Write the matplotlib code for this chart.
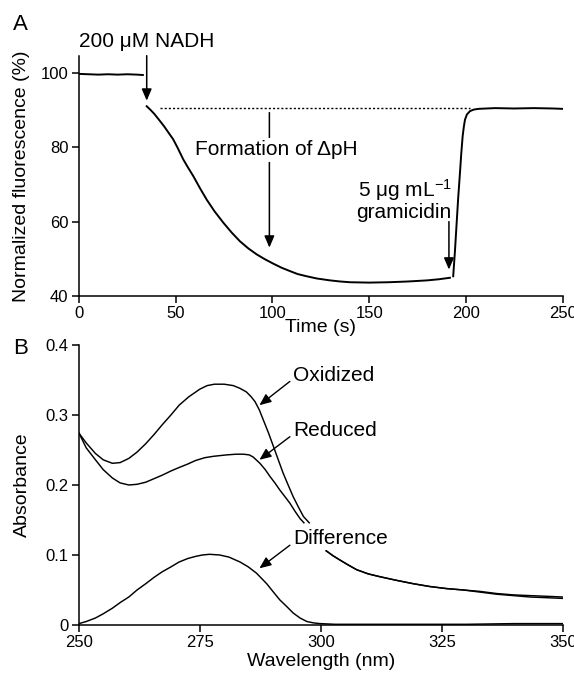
import numpy as np
import matplotlib
matplotlib.use("Agg")
import matplotlib.pyplot as plt

plt.rcParams['font.family'] = ['Liberation Sans', 'DejaVu Sans']
plt.rcParams['mathtext.fontset'] = 'custom'
plt.rcParams['mathtext.rm'] = 'Liberation Sans'
plt.rcParams['mathtext.it'] = 'Liberation Sans'

# ---------------- Panel A data: fluorescence trace ----------------
baseline_t = [0, 5, 10, 15, 20, 25, 30, 33]
baseline_f = [99.7, 99.6, 99.5, 99.6, 99.5, 99.6, 99.5, 99.4]

decay_t = [35.0, 37.0, 39.0, 41.9, 44.0, 46.0, 48.7, 51.0, 53.9, 56.5, 59.1, 62.5,
           66.0, 70.0, 74.6, 79.0, 83.2, 87.5, 91.8, 96.0, 100.4, 104.7, 109.0,
           113.0, 117.7, 123.0, 129.7, 135.0, 140.0, 150.0, 160.0, 170.0, 180.0,
           186.0, 191.7]
decay_f = [91.0, 90.0, 88.9, 87.0, 85.6, 84.1, 82.1, 79.8, 76.7, 74.4, 72.2, 69.0,
           65.9, 62.8, 59.7, 57.0, 54.7, 52.8, 51.2, 49.9, 48.7, 47.6, 46.7,
           45.9, 45.3, 44.7, 44.2, 43.9, 43.7, 43.6, 43.7, 43.9, 44.2,
           44.5, 44.9]

rise_t = [193.4, 194.3, 195.2, 196.0, 196.9, 197.6, 198.3, 198.9, 199.5, 200.5,
          202.1, 204.0, 206.4, 215, 225, 235, 245, 250]
rise_f = [45.3, 52.0, 59.7, 66.5, 73.1, 78.5, 83.0, 85.5, 87.4, 88.8,
          89.7, 90.1, 90.3, 90.5, 90.4, 90.5, 90.4, 90.3]

dotted_t = [41.9, 202.0]
dotted_f = [90.4, 90.4]

a_xticks = [0, 50, 100, 150, 200, 250]
a_yticks = [40, 60, 80, 100]

# ---------------- Panel B data: absorbance spectra ----------------
ox_nm = [250, 251.5, 253.4, 255, 256.9, 258.5, 260.3, 262, 263.8, 265.5, 267.2,
         269, 270.7, 272.7, 275.0, 276.5, 278, 280, 281.9, 283.3, 284.6, 285.6,
         286.4, 287.3, 288.1, 289.2, 290.2, 291.2, 292.2, 293.3, 294.3, 295.4,
         296.4, 297.6]
ox_abs = [0.274, 0.260, 0.245, 0.236, 0.231, 0.232, 0.238, 0.247, 0.259, 0.272, 0.286,
          0.300, 0.314, 0.326, 0.337, 0.342, 0.344, 0.344, 0.342, 0.338, 0.333, 0.326,
          0.319, 0.307, 0.293, 0.274, 0.255, 0.236, 0.217, 0.199, 0.183, 0.168,
          0.155, 0.146]

red_nm = [250, 251.5, 253.4, 255, 256.9, 258.5, 260.3, 262, 263.8, 265.5, 267.2,
          269, 270.7, 272.5, 274.1, 276, 277.8, 280.5, 282.5, 284.0, 285.2, 286.0,
          287.4, 288.5, 289.5, 290.5, 291.5, 292.5, 293.6, 294.7, 295.7, 296.5]
red_abs = [0.274, 0.253, 0.236, 0.222, 0.210, 0.203, 0.200, 0.201, 0.204, 0.209, 0.214,
           0.220, 0.225, 0.230, 0.235, 0.239, 0.241, 0.243, 0.244, 0.244, 0.243, 0.240,
           0.231, 0.222, 0.212, 0.203, 0.193, 0.184, 0.174, 0.162, 0.152, 0.146]

tail_nm = [301.1, 302.5, 303.9, 305.6, 307.4, 309.8, 312.2, 315.5, 319.1, 322.5,
           326.0, 329.5, 332.9, 336.3, 339.8, 343.2, 346.7, 350]
tail_ox = [0.106, 0.099, 0.093, 0.086, 0.079, 0.073, 0.069, 0.064, 0.059, 0.055,
           0.052, 0.050, 0.048, 0.045, 0.043, 0.042, 0.041, 0.040]
tail_red = [0.106, 0.099, 0.093, 0.086, 0.079, 0.073, 0.069, 0.064, 0.059, 0.055,
            0.052, 0.050, 0.047, 0.044, 0.042, 0.040, 0.039, 0.038]

diff_nm = [250, 251.5, 253.4, 255, 256.9, 258.5, 260.3, 262, 263.8, 265.5, 267.2,
           269, 270.7, 272.5, 274.1, 275.5, 277.0, 279.1, 281, 283.3, 285, 286.7,
           288.8, 290.2, 291.5, 293, 294.3, 295.7, 297.1, 298.5, 299.8, 303, 310,
           320, 330, 340, 350]
diff_abs = [0.002, 0.005, 0.010, 0.016, 0.024, 0.032, 0.040, 0.050, 0.059, 0.068, 0.076,
            0.083, 0.090, 0.095, 0.098, 0.100, 0.101, 0.100, 0.097, 0.090, 0.083, 0.074,
            0.059, 0.047, 0.036, 0.026, 0.017, 0.010, 0.005, 0.003, 0.002, 0.001, 0.001,
            0.001, 0.001, 0.002, 0.002]

b_xticks = [250, 275, 300, 325, 350]
b_yticks = [0, 0.1, 0.2, 0.3, 0.4]
b_yticklabels = ['0', '0.1', '0.2', '0.3', '0.4']

W, H = 574, 673
fig = plt.figure(figsize=(W / 100, H / 100), dpi=100)

def px_axes(left, top, right, bottom):
    return fig.add_axes([left / W, 1 - bottom / H, (right - left) / W, (bottom - top) / H])

lw_tr = 1.4
lw_b = 1.05
ann_fs = 15
lab_fs = 14
tick_fs = 12

def style(ax):
    for s in ['top', 'right']:
        ax.spines[s].set_visible(False)
    for s in ['left', 'bottom']:
        ax.spines[s].set_linewidth(1.1)
    ax.tick_params(direction='out', length=5, width=1.1, labelsize=tick_fs, pad=2.5)

# ---------------- Panel A ----------------
axA = px_axes(79, 56.4, 562.7, 296)
axA.plot(baseline_t, baseline_f, color='black', lw=lw_tr)
axA.plot(decay_t, decay_f, color='black', lw=lw_tr)
axA.plot(rise_t, rise_f, color='black', lw=lw_tr)
axA.plot(dotted_t, dotted_f, color='black', lw=1.0, linestyle=(0, (1.5, 1.5)))
axA.set_xlim(0, 250)
axA.set_ylim(40, 104.4)
axA.set_xticks(a_xticks)
axA.set_yticks(a_yticks)
style(axA)
axA.set_xlabel('Time (s)', fontsize=lab_fs, va='center')
axA.xaxis.set_label_coords(0.5, -(328 - 296) / 239.6)
axA.set_ylabel('Normalized fluorescence (%)', fontsize=lab_fs, va='center')
axA.yaxis.set_label_coords(-(79 - 22) / 483.7, 0.5)

arrow_kw = dict(arrowstyle='-|>,head_length=0.7,head_width=0.3', color='black', lw=1.1,
                shrinkA=0, shrinkB=0)
axA.text(0, 108.3, '200 \u03bcM NADH', fontsize=ann_fs, ha='left', va='center', clip_on=False)
axA.annotate('', xy=(35, 92.5), xytext=(35, 104.6), arrowprops=arrow_kw, annotation_clip=False)

axA.annotate('', xy=(98.4, 53.0), xytext=(98.4, 89.3), arrowprops=arrow_kw, zorder=1)
axA.text(59.9, 79.25, 'Formation of \u0394pH', fontsize=ann_fs, ha='left', va='center',
         bbox=dict(facecolor='white', edgecolor='none', pad=1.5), zorder=3)

axA.text(192.6, 65.9, '5 \u03bcg mL$^{-1}$\ngramicidin', fontsize=ann_fs, ha='right',
         va='center', linespacing=0.95, multialignment='right')
axA.annotate('', xy=(191.2, 47.1), xytext=(191.2, 60.0), arrowprops=arrow_kw)

fig.text(13 / W, 1 - 25 / H, 'A', fontsize=16, ha='left', va='center')

# ---------------- Panel B ----------------
axB = px_axes(79, 345, 562.7, 625)
axB.plot(ox_nm, ox_abs, color='black', lw=lw_b)
axB.plot(red_nm, red_abs, color='black', lw=lw_b)
axB.plot(tail_nm, tail_ox, color='black', lw=lw_b)
axB.plot(tail_nm, tail_red, color='black', lw=lw_b)
axB.plot(diff_nm, diff_abs, color='black', lw=lw_b)
axB.set_xlim(250, 350)
axB.set_ylim(0, 0.4)
axB.set_xticks(b_xticks)
axB.set_yticks(b_yticks)
axB.set_yticklabels(b_yticklabels)
style(axB)
axB.set_xlabel('Wavelength (nm)', fontsize=lab_fs, va='center')
axB.xaxis.set_label_coords(0.5, -(661 - 625) / 280)
axB.set_ylabel('Absorbance', fontsize=lab_fs, va='center')
axB.yaxis.set_label_coords(-(79 - 22) / 483.7, 0.5)

arrow_b = dict(arrowstyle='-|>,head_length=0.7,head_width=0.3', color='black', lw=1.0,
               shrinkA=0, shrinkB=0)
for label, ty, (sx, sy), (ex, ey) in [
        ('Oxidized', 0.357, (293.6, 0.348), (287.3, 0.314)),
        ('Reduced', 0.278, (293.6, 0.269), (287.3, 0.236)),
        ('Difference', 0.124, (293.6, 0.114), (287.3, 0.081))]:
    axB.annotate('', xy=(ex, ey), xytext=(sx, sy), arrowprops=arrow_b)
    axB.text(294.3, ty, label, fontsize=ann_fs, ha='left', va='center',
             bbox=dict(facecolor='white', edgecolor='none', pad=2), zorder=3)

fig.text(13 / W, 1 - 348 / H, 'B', fontsize=16, ha='left', va='center')

fig.savefig('out.png', dpi=100)
